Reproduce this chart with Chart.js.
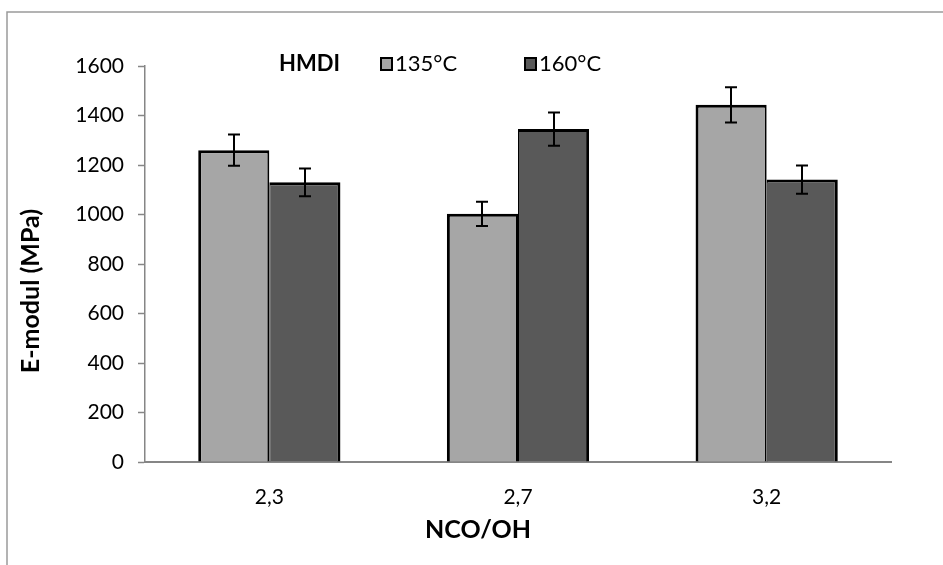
<!DOCTYPE html>
<html>
<head>
<meta charset="utf-8">
<script src="https://cdn.jsdelivr.net/npm/chart.js@4/dist/chart.umd.min.js"></script>
<style>
  html, body { margin: 0; padding: 0; background: #fff; }
  #wrap { width: 943px; height: 565px; }
</style>
</head>
<body>
<div id="wrap"><canvas id="myChart" width="943" height="565"></canvas></div>
<script>
// E-modul vs NCO/OH ratio, HMDI, two curing temperatures
const categories = ['2,3', '2,7', '3,2'];
const seriesNames = ['135°C', '160°C'];
const modul135 = [1260, 1003, 1443];
const modul160 = [1130, 1345, 1141];
const err135 = [63, 49, 71];
const err160 = [56, 67, 57];
const yTicks = [0, 200, 400, 600, 800, 1000, 1200, 1400, 1600];

const FONT = 'Lato, "Open Sans", sans-serif';
const AXIS_GREY = '#868686';

// grey frame round the chart
const frame = {
    id: 'frame',
    beforeDraw(chart) {
        const ctx = chart.ctx;
        ctx.save();
        ctx.strokeStyle = '#9a9a9a';
        ctx.lineWidth = 1.5;
        ctx.beginPath();
        ctx.moveTo(7, chart.height);
        ctx.lineTo(7, 12);
        ctx.lineTo(chart.width, 12);
        ctx.stroke();
        ctx.restore();
    }
};

// +/- error whiskers on each bar
const errorBars = {
    id: 'errorBars',
    afterDatasetsDraw(chart) {
        const ctx = chart.ctx;
        const y = chart.scales.y;
        ctx.save();
        ctx.strokeStyle = '#000';
        ctx.lineWidth = 2;
        chart.data.datasets.forEach((ds, i) => {
            const meta = chart.getDatasetMeta(i);
            meta.data.forEach((bar, j) => {
                const v = ds.data[j];
                const e = ds.errors[j];
                const top = y.getPixelForValue(v + e);
                const bot = y.getPixelForValue(v - e);
                const x = Math.round(bar.x);
                ctx.beginPath();
                ctx.moveTo(x, top);
                ctx.lineTo(x, bot);
                ctx.moveTo(x - 6, top);
                ctx.lineTo(x + 6, top);
                ctx.moveTo(x - 6, bot);
                ctx.lineTo(x + 6, bot);
                ctx.stroke();
            });
        });
        ctx.restore();
    }
};

// axis titles sit off-centre, so they are placed by hand
const axisTitles = {
    id: 'axisTitles',
    afterDraw(chart) {
        const ctx = chart.ctx;
        ctx.save();
        ctx.fillStyle = '#000';
        ctx.font = 'bold 25px ' + FONT;
        ctx.textAlign = 'center';
        ctx.textBaseline = 'middle';
        ctx.fillText('NCO/OH', 478, 530);
        ctx.translate(31, 291);
        ctx.rotate(-Math.PI / 2);
        ctx.fillText('E-modul (MPa)', 0, 0);
        ctx.restore();
    }
};

// "HMDI" caption and legend boxes
const legendBox = {
    id: 'legendBox',
    afterDraw(chart) {
        const ctx = chart.ctx;
        const cy = 64;
        ctx.save();
        ctx.textBaseline = 'middle';
        ctx.fillStyle = '#000';
        ctx.font = 'bold 22px ' + FONT;
        ctx.fillText('HMDI', 279, cy);
        const items = [[381, 395], [525, 539]];
        chart.data.datasets.forEach((ds, i) => {
            const [bx, tx] = items[i];
            ctx.fillStyle = ds.backgroundColor;
            ctx.fillRect(bx, cy - 6, 11, 12);
            ctx.strokeStyle = '#000';
            ctx.lineWidth = 2;
            ctx.strokeRect(bx, cy - 6, 11, 12);
            ctx.fillStyle = '#000';
            ctx.font = '22px ' + FONT;
            ctx.fillText(ds.label, tx, cy);
        });
        ctx.restore();
    }
};

const ctx = document.getElementById('myChart').getContext('2d');
const myChart = new Chart(ctx, {
    type: 'bar',
    data: {
        labels: categories,
        datasets: [{
            label: seriesNames[0],
            data: modul135,
            errors: err135,
            backgroundColor: '#a6a6a6',
            borderColor: '#000',
            borderWidth: { top: 3, left: 3, right: 2, bottom: 0 },
            borderSkipped: false
        }, {
            label: seriesNames[1],
            data: modul160,
            errors: err160,
            backgroundColor: '#595959',
            borderColor: '#000',
            borderWidth: { top: 3, left: 1, right: 3, bottom: 0 },
            borderSkipped: false
        }]
    },
    options: {
        responsive: false,
        animation: false,
        layout: { padding: { left: 0, top: 66, right: 52, bottom: 0 } },
        plugins: {
            legend: { display: false },
            tooltip: { enabled: false }
        },
        datasets: {
            bar: { categoryPercentage: 0.572, barPercentage: 1 }
        },
        scales: {
            x: {
                grid: { drawOnChartArea: false, drawTicks: false },
                border: { color: AXIS_GREY, width: 2 },
                ticks: { color: '#000', font: { family: FONT, size: 21 }, padding: 23 },
                afterFit(scale) { scale.height = 103; }
            },
            y: {
                min: 0,
                max: 1600,
                afterBuildTicks(scale) { scale.ticks = yTicks.map(v => ({ value: v })); },
                grid: { drawOnChartArea: false, drawTicks: true, tickLength: 7, tickColor: AXIS_GREY, tickWidth: 1.5 },
                border: { color: AXIS_GREY, width: 1.5 },
                ticks: {
                    color: '#000',
                    font: { family: FONT, size: 21 },
                    padding: 14,
                    callback: v => String(v)
                },
                afterFit(scale) { scale.width = 145; }
            }
        }
    },
    plugins: [frame, errorBars, axisTitles, legendBox]
});
</script>
</body>
</html>
